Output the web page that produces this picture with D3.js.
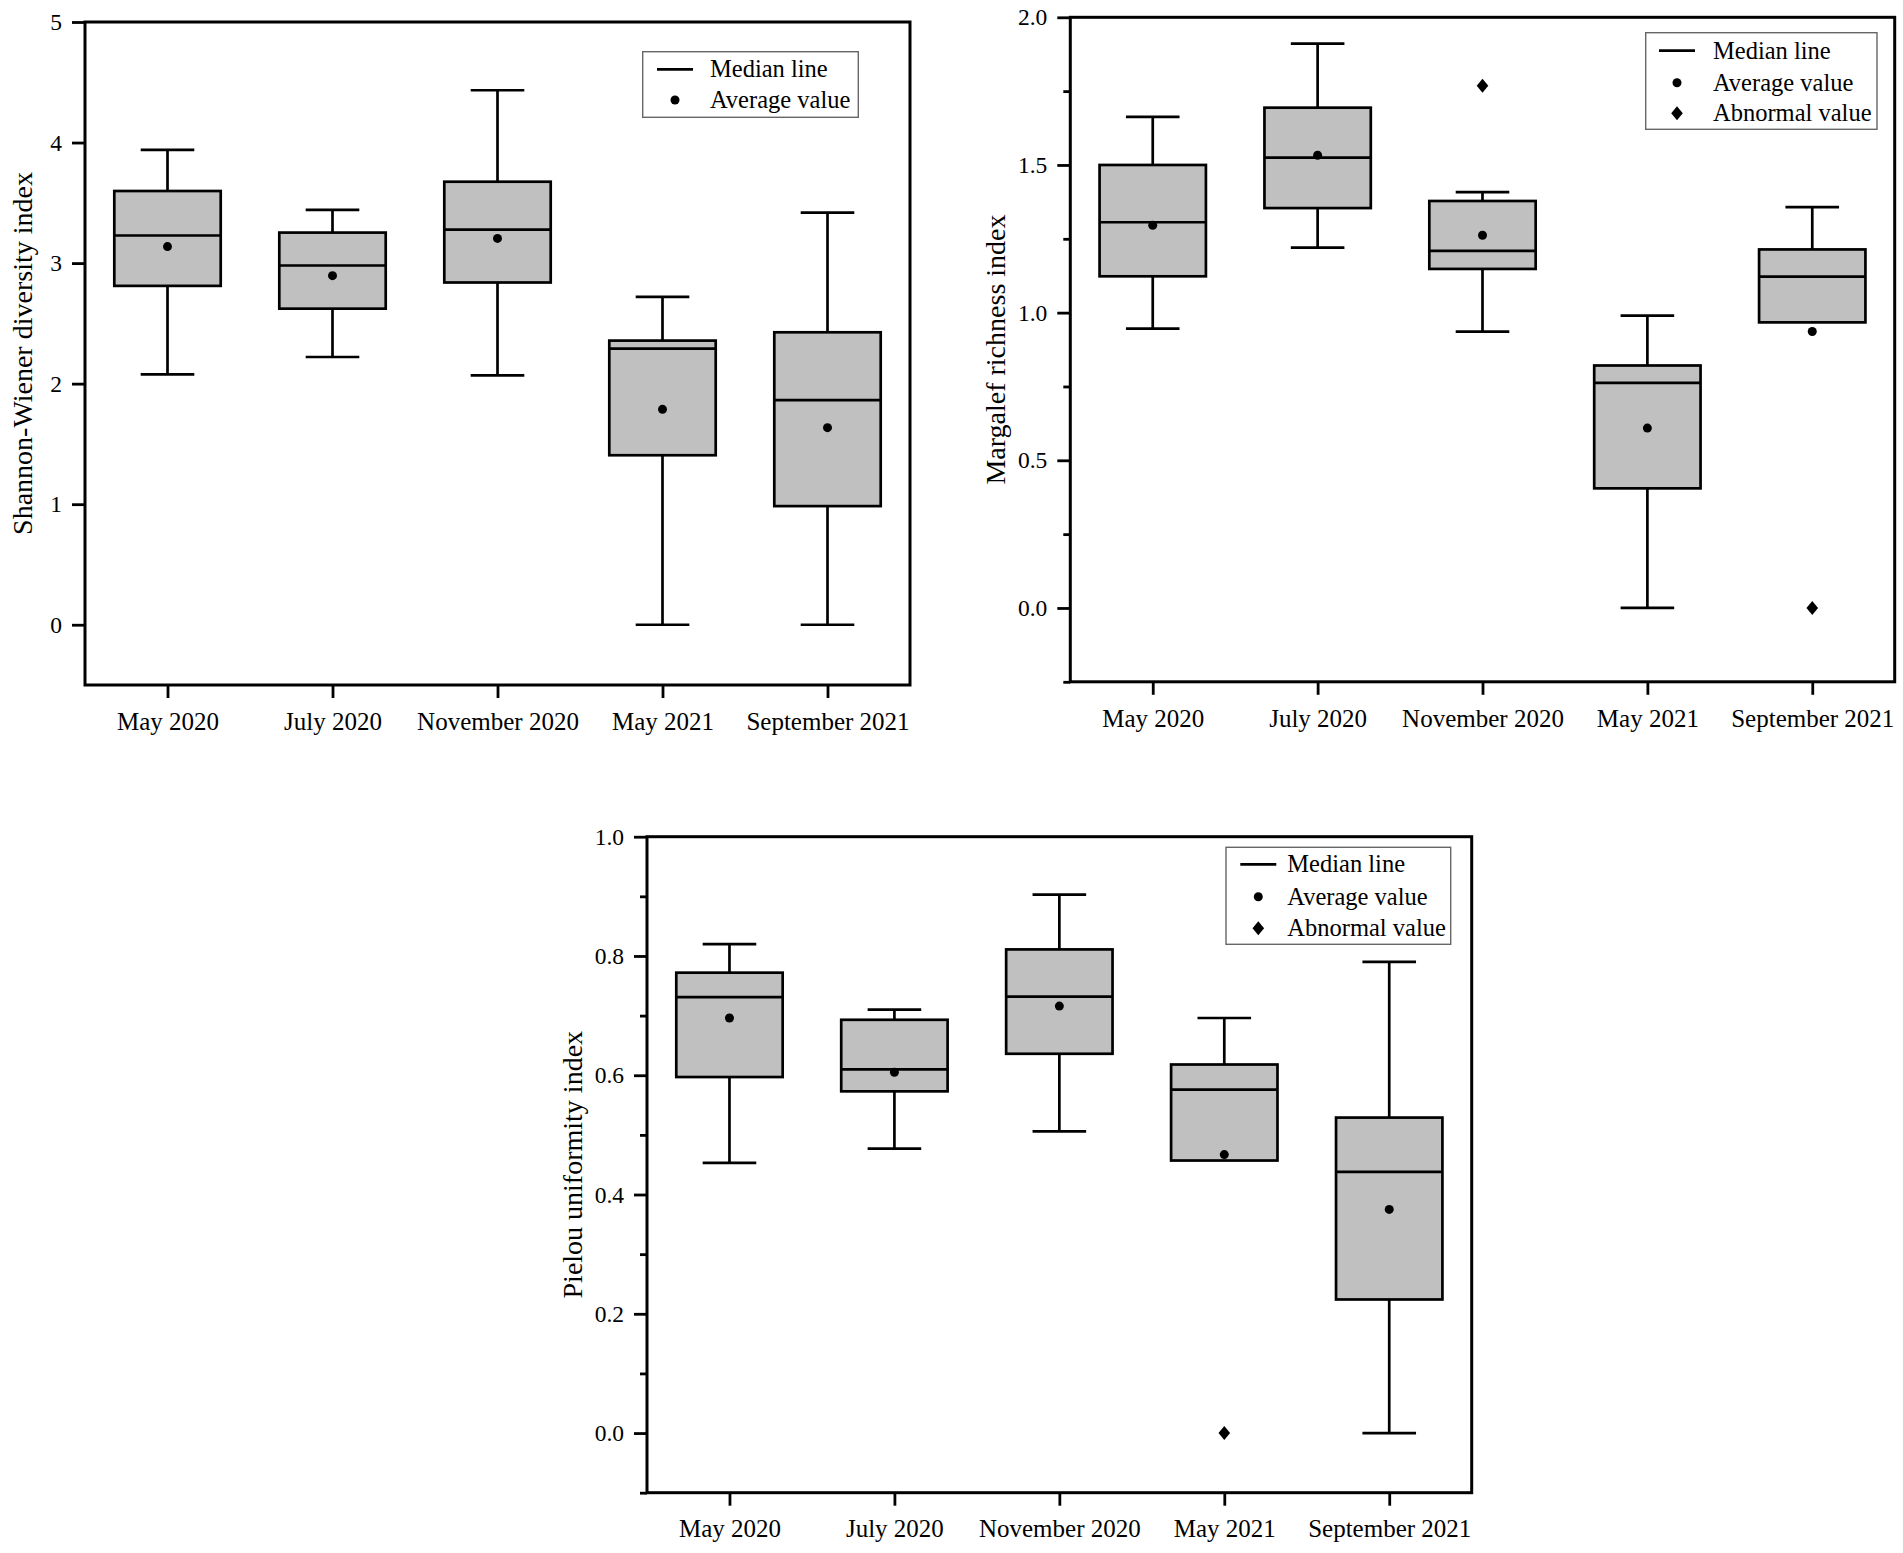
<!DOCTYPE html>
<html>
<head>
<meta charset="utf-8">
<script src="https://cdn.jsdelivr.net/npm/d3@7"></script>
<style>
  html, body { margin: 0; padding: 0; background: #fff; }
  svg text { font-family: "Liberation Serif", "Times New Roman", serif; fill: #000; }
</style>
</head>
<body>
<svg id="chart" width="1903" height="1553"></svg>
<script>
// ---------- DATA ----------
const categories = ["May 2020", "July 2020", "November 2020", "May 2021", "September 2021"];

// Shannon-Wiener diversity index
const shannonMin    = [2.076, 2.221, 2.068, 0, 0];
const shannonQ1     = [2.811, 2.622, 2.839, 1.406, 0.984];
const shannonMedian = [3.229, 2.980, 3.277, 2.290, 1.863];
const shannonQ3     = [3.598, 3.253, 3.675, 2.357, 2.426];
const shannonMax    = [3.940, 3.442, 4.434, 2.720, 3.418];
const shannonMean   = [3.137, 2.896, 3.205, 1.787, 1.635];
const shannonOutliers = [[], [], [], [], []];
const shannonTicks = [0, 1, 2, 3, 4, 5];
const shannonMinorTicks = [];

// Margalef richness index
const margalefMin    = [0.946, 1.220, 0.936, 0, 0.967];
const margalefQ1     = [1.123, 1.354, 1.148, 0.405, 0.967];
const margalefMedian = [1.306, 1.525, 1.209, 0.762, 1.122];
const margalefQ3     = [1.500, 1.694, 1.378, 0.821, 1.214];
const margalefMax    = [1.663, 1.911, 1.408, 0.990, 1.357];
const margalefMean   = [1.296, 1.533, 1.262, 0.609, 0.936];
const margalefOutliers = [[], [], [1.768], [], [0]];
const margalefTicks = [0, 0.5, 1.0, 1.5, 2.0];
const margalefMinorTicks = [-0.25, 0.25, 0.75, 1.25, 1.75];

// Pielou uniformity index
const pielouMin    = [0.453, 0.477, 0.506, 0.457, 0];
const pielouQ1     = [0.597, 0.573, 0.636, 0.457, 0.224];
const pielouMedian = [0.731, 0.610, 0.732, 0.576, 0.438];
const pielouQ3     = [0.772, 0.693, 0.811, 0.618, 0.529];
const pielouMax    = [0.820, 0.710, 0.903, 0.696, 0.790];
const pielouMean   = [0.696, 0.605, 0.716, 0.467, 0.375];
const pielouOutliers = [[], [], [], [0], []];
const pielouTicks = [0, 0.2, 0.4, 0.6, 0.8, 1.0];
const pielouMinorTicks = [-0.1, 0.1, 0.3, 0.5, 0.7, 0.9];

const legendTwo = ["Median line", "Average value"];
const legendThree = ["Median line", "Average value", "Abnormal value"];

// ---------- LAYOUT ----------
const panels = [
  { title: "Shannon-Wiener diversity index", x0: 85, x1: 910, y0: 22, y1: 685, domain: [-0.5, 5],
    ticks: shannonTicks, minor: shannonMinorTicks, fmt: d3.format("d"),
    min: shannonMin, q1: shannonQ1, med: shannonMedian, q3: shannonQ3, max: shannonMax, mean: shannonMean, out: shannonOutliers,
    titleX: 22.5,
    legend: { items: legendTwo, x: 642.7, y: 51.7, w: 215.6, h: 65.6, rows: [17.6, 48.3], sym: 32.3, text: 67.3 } },
  { title: "Margalef richness index", x0: 1070.3, x1: 1894.7, y0: 17.3, y1: 681.8, domain: [-0.25, 2],
    ticks: margalefTicks, minor: margalefMinorTicks, fmt: d3.format(".1f"),
    min: margalefMin, q1: margalefQ1, med: margalefMedian, q3: margalefQ3, max: margalefMax, mean: margalefMean, out: margalefOutliers,
    titleX: 995.5,
    legend: { items: legendThree, x: 1645.7, y: 32.7, w: 231.3, h: 96.6, rows: [18, 50, 80.6], sym: 31.3, text: 67.3 } },
  { title: "Pielou uniformity index", x0: 647, x1: 1471.7, y0: 836.7, y1: 1492.7, domain: [-0.1, 1.0],
    ticks: pielouTicks, minor: pielouMinorTicks, fmt: d3.format(".1f"),
    min: pielouMin, q1: pielouQ1, med: pielouMedian, q3: pielouQ3, max: pielouMax, mean: pielouMean, out: pielouOutliers,
    titleX: 572.5,
    legend: { items: legendThree, x: 1226, y: 847.3, w: 224.7, h: 97, rows: [17, 49.4, 81], sym: 32.3, text: 61.3 } }
];

const svg = d3.select("#chart");
svg.append("rect").attr("width", 1903).attr("height", 1553).attr("fill", "#fff");

const BOX_FILL = "#c0c0c0";
const SW = 2.7;
const FONT = '"Liberation Serif", "Times New Roman", serif';

function diamondPath(cx, cy) {
  const hw = 5.8, hh = 7;
  return `M${cx},${cy - hh}L${cx + hw},${cy}L${cx},${cy + hh}L${cx - hw},${cy}Z`;
}

panels.forEach(p => {
  const g = svg.append("g");
  const x = d3.scalePoint().domain(categories).range([p.x0, p.x1]).padding(0.5);
  const y = d3.scaleLinear().domain(p.domain).range([p.y1, p.y0]);
  const step = x.step();
  const bw = step * 0.645;
  const cw = step * 0.325;

  // Y axis major
  const yAxis = d3.axisLeft(y).tickValues(p.ticks).tickFormat(p.fmt).tickSize(13).tickPadding(10);
  const ya = g.append("g").attr("transform", `translate(${p.x0},0)`).call(yAxis);
  ya.select(".domain").remove();
  ya.selectAll(".tick line").attr("stroke", "#000").attr("stroke-width", 2.8);
  ya.selectAll(".tick text").attr("font-size", 23.5).attr("font-family", FONT).attr("fill", "#000");

  // Y axis minor
  if (p.minor.length) {
    const yMinor = d3.axisLeft(y).tickValues(p.minor).tickFormat("").tickSize(7);
    const ym = g.append("g").attr("transform", `translate(${p.x0},0)`).call(yMinor);
    ym.select(".domain").remove();
    ym.selectAll(".tick line").attr("stroke", "#000").attr("stroke-width", 2.8);
  }

  // X axis
  const xAxis = d3.axisBottom(x).tickSize(13).tickPadding(14);
  const xa = g.append("g").attr("transform", `translate(0,${p.y1})`).call(xAxis);
  xa.select(".domain").remove();
  xa.selectAll(".tick line").attr("stroke", "#000").attr("stroke-width", 2.8);
  xa.selectAll(".tick text").attr("font-size", 25).attr("font-family", FONT).attr("fill", "#000");

  // Frame
  g.append("rect").attr("x", p.x0).attr("y", p.y0).attr("width", p.x1 - p.x0).attr("height", p.y1 - p.y0)
    .attr("fill", "none").attr("stroke", "#000").attr("stroke-width", 3);

  // Y title
  g.append("text")
    .attr("transform", `translate(${p.titleX},${(p.y0 + p.y1) / 2}) rotate(-90)`)
    .attr("text-anchor", "middle").attr("dominant-baseline", "central")
    .attr("font-size", 28).text(p.title);

  // Boxes
  categories.forEach((c, i) => {
    const cx = x(c);
    const bg = g.append("g");
    // upper whisker
    bg.append("line").attr("x1", cx).attr("x2", cx).attr("y1", y(p.q3[i])).attr("y2", y(p.max[i]))
      .attr("stroke", "#000").attr("stroke-width", SW);
    bg.append("line").attr("x1", cx - cw / 2).attr("x2", cx + cw / 2).attr("y1", y(p.max[i])).attr("y2", y(p.max[i]))
      .attr("stroke", "#000").attr("stroke-width", SW);
    // lower whisker
    if (p.min[i] < p.q1[i]) {
      bg.append("line").attr("x1", cx).attr("x2", cx).attr("y1", y(p.q1[i])).attr("y2", y(p.min[i]))
        .attr("stroke", "#000").attr("stroke-width", SW);
      bg.append("line").attr("x1", cx - cw / 2).attr("x2", cx + cw / 2).attr("y1", y(p.min[i])).attr("y2", y(p.min[i]))
        .attr("stroke", "#000").attr("stroke-width", SW);
    }
    // box
    bg.append("rect").attr("x", cx - bw / 2).attr("width", bw)
      .attr("y", y(p.q3[i])).attr("height", y(p.q1[i]) - y(p.q3[i]))
      .attr("fill", BOX_FILL).attr("stroke", "#000").attr("stroke-width", SW);
    // median
    bg.append("line").attr("x1", cx - bw / 2).attr("x2", cx + bw / 2).attr("y1", y(p.med[i])).attr("y2", y(p.med[i]))
      .attr("stroke", "#000").attr("stroke-width", SW);
    // mean
    bg.append("circle").attr("cx", cx).attr("cy", y(p.mean[i])).attr("r", 4.5).attr("fill", "#000");
    // outliers
    p.out[i].forEach(v => {
      bg.append("path").attr("d", diamondPath(cx, y(v))).attr("fill", "#000");
    });
  });

  // Legend
  const L = p.legend;
  const lg = g.append("g").attr("transform", `translate(${L.x},${L.y})`);
  lg.append("rect").attr("width", L.w).attr("height", L.h).attr("fill", "#fff")
    .attr("stroke", "#666").attr("stroke-width", 1.4);
  L.items.forEach((name, k) => {
    const ry = L.rows[k];
    if (k === 0) {
      lg.append("line").attr("x1", L.sym - 18).attr("x2", L.sym + 18).attr("y1", ry).attr("y2", ry)
        .attr("stroke", "#000").attr("stroke-width", 2.7);
    } else if (k === 1) {
      lg.append("circle").attr("cx", L.sym).attr("cy", ry).attr("r", 4.5).attr("fill", "#000");
    } else {
      lg.append("path").attr("d", diamondPath(L.sym, ry)).attr("fill", "#000");
    }
    lg.append("text").attr("x", L.text).attr("y", ry + 8).attr("font-size", 24.5).text(name);
  });
});
</script>
</body>
</html>
